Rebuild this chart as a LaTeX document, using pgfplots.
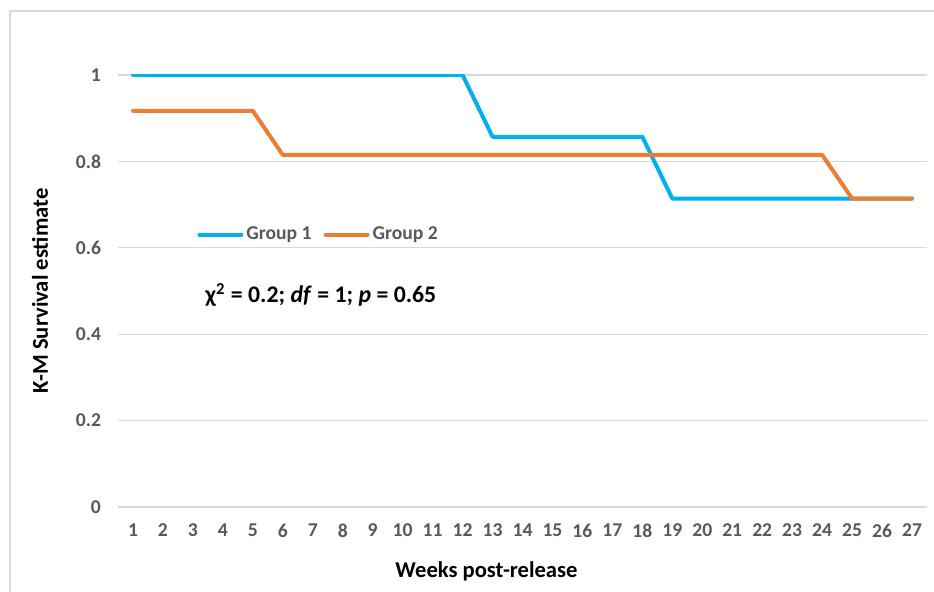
\documentclass[border=0pt]{standalone}
\usepackage{fontspec}
\setmainfont{Carlito}
\usepackage{pgfplots}
\pgfplotsset{compat=1.18}
\definecolor{grpA}{HTML}{00B0F0}
\definecolor{grpB}{HTML}{ED7D31}
\definecolor{gridc}{HTML}{D9D9D9}
\definecolor{tickc}{HTML}{595959}
\definecolor{framec}{HTML}{D9D9D9}
\begin{document}
\begin{tikzpicture}
\useasboundingbox (0,0) rectangle (467pt,296pt);
\fill[white] (0,0) rectangle (467pt,296pt);
% chart frame (cut by the picture on right and bottom)
\draw[framec, line width=0.6pt] (5pt,-10pt) -- (5pt,290.5pt) -- (480pt,290.5pt);
\begin{axis}[
    at={(59pt,42.5pt)}, anchor=south west,
    width=404.5pt, height=216pt, scale only axis,
    xmin=0.5, xmax=27.5, ymin=0, ymax=1,
    xtick={1,...,27}, ytick={0,0.2,...,1},
    axis line style={draw=none}, major tick length=0pt,
    ymajorgrids, grid style={gridc, line width=0.6pt},
    /pgf/number format/assume math mode=true,
    tick label style={font=\fontsize{9.8}{11}\selectfont\bfseries, text=tickc},
    xticklabel style={yshift=-5pt},
    yticklabel style={xshift=-5pt},
    xlabel={Weeks post-release}, ylabel={K-M Survival estimate},
    label style={font=\fontsize{11.3}{13}\selectfont\bfseries},
    xlabel style={at={(rel axis cs:0.5,0)}, anchor=center, yshift=-32pt, xshift=-18pt},
    ylabel style={at={(rel axis cs:0,0.5)}, anchor=center, yshift=39pt},
    legend style={at={(rel axis cs:0.0977,0.63)}, anchor=west, draw=none, fill=none,
        font=\fontsize{9.8}{12}\selectfont\bfseries, text=tickc,
        inner sep=0pt, nodes={inner sep=1.5pt},
        /tikz/every even column/.append style={column sep=4.5pt}},
    legend columns=2,
    legend image code/.code={\draw[#1, line width=2pt] (0pt,0pt) -- (21pt,0pt);},
    every axis plot/.append style={line width=2pt, line join=round, line cap=round},
]
\addplot[grpA] coordinates {
(1,1) (2,1) (3,1) (4,1) (5,1) (6,1) (7,1) (8,1) (9,1) (10,1) (11,1) (12,1)
(13,0.857) (14,0.857) (15,0.857) (16,0.857) (17,0.857) (18,0.857)
(19,0.714) (20,0.714) (21,0.714) (22,0.714) (23,0.714) (24,0.714) (25,0.714) (26,0.714) (27,0.714)
};
\addlegendentry{Group 1}
\addplot[grpB] coordinates {
(1,0.917) (2,0.917) (3,0.917) (4,0.917) (5,0.917)
(6,0.815) (7,0.815) (8,0.815) (9,0.815) (10,0.815) (11,0.815) (12,0.815) (13,0.815)
(14,0.815) (15,0.815) (16,0.815) (17,0.815) (18,0.815) (19,0.815) (20,0.815) (21,0.815)
(22,0.815) (23,0.815) (24,0.815)
(25,0.714) (26,0.714) (27,0.714)
};
\addlegendentry{Group 2}
\node[anchor=west, inner sep=0pt, font=\fontsize{11.9}{13}\selectfont\bfseries]
  at (rel axis cs:0.1075,0.491)
  {χ\textsuperscript{2} = 0.2; \textit{df} = 1; \textit{p} = 0.65};
\end{axis}
\end{tikzpicture}
\end{document}
